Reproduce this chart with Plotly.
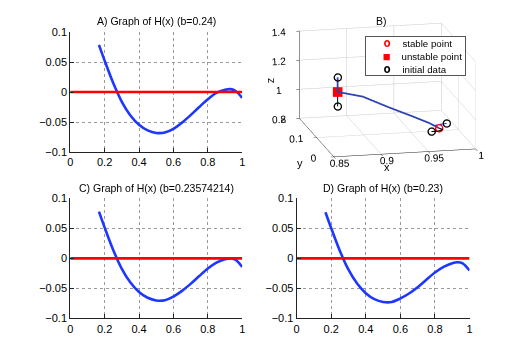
import plotly.graph_objects as go

# ---------------- data ----------------
x_h = [0.167, 0.2, 0.25, 0.3, 0.35, 0.4, 0.45, 0.5, 0.55, 0.6, 0.65, 0.7,
       0.75, 0.8, 0.85, 0.9, 0.93, 0.96, 1.0]
h_a = [0.0787, 0.0525, 0.0150, -0.0162, -0.0390, -0.0545, -0.0640, -0.0682, -0.0675,
       -0.0614, -0.0510, -0.0385, -0.0250, -0.0120, -0.0015, 0.0037, 0.0049, 0.0022, -0.0098]
h_c = [0.0780, 0.0517, 0.0140, -0.0174, -0.0403, -0.0560, -0.0657, -0.0701, -0.0697,
       -0.0637, -0.0542, -0.0425, -0.0295, -0.0169, -0.0070, -0.0013, 0.0001, -0.0022, -0.0143]
h_d = [0.0770, 0.0505, 0.0127, -0.0189, -0.0420, -0.0580, -0.0680, -0.0726, -0.0727,
       -0.0668, -0.0585, -0.0480, -0.0355, -0.0235, -0.0143, -0.0080, -0.0064, -0.0082, -0.0203]
zero_x = [0.0, 1.0]
zero_y = [0.0, 0.0]

titles = ["A) Graph of H(x) (b=0.24)", "B)",
          "C) Graph of H(x) (b=0.23574214)", "D) Graph of H(x) (b=0.23)"]
x_ticks = [0, 0.2, 0.4, 0.6, 0.8, 1]
y_ticks = [-0.1, -0.05, 0, 0.05, 0.1]

# 3D panel
legend_names = ["stable point", "unstable point", "initial data"]
axis3_titles = ["x", "y", "z"]
stable_pt = [0.97, 0.048, 0.89]
unstable_pt = [0.877, 0.126, 1.07]
init_x = [0.877, 0.877, 0.978, 0.962]
init_y = [0.126, 0.126, 0.048, 0.048]
init_z = [1.17, 0.97, 0.92, 0.87]
traj_main_x = [0.877, 0.877, 0.877, 0.900, 0.9235, 0.947, 0.962, 0.970]
traj_main_y = [0.126, 0.126, 0.126, 0.1065, 0.087, 0.0675, 0.056, 0.048]
traj_main_z = [1.17, 1.11, 1.07, 1.055, 1.0, 0.95, 0.915, 0.89]
traj_low_x = [0.877, 0.877]
traj_low_y = [0.126, 0.126]
traj_low_z = [0.97, 1.07]
traj_s1_x = [0.978, 0.974, 0.966, 0.970]
traj_s1_y = [0.048, 0.050, 0.052, 0.048]
traj_s1_z = [0.92, 0.915, 0.905, 0.89]
traj_s2_x = [0.962, 0.968, 0.974, 0.970]
traj_s2_y = [0.048, 0.046, 0.046, 0.048]
traj_s2_z = [0.87, 0.872, 0.882, 0.89]

# ---------------- figure ----------------
W, H = 521, 364
BLUE = "rgb(30,55,255)"
RED = "rgb(255,0,0)"
FONT = "Liberation Sans, Arial, Helvetica, sans-serif"

fig = go.Figure()

panels = [
    ("x", "y", h_a, (68, 242), (27, 151)),
    ("x2", "y2", h_c, (68, 242), (199, 323)),
    ("x3", "y3", h_d, (297, 472), (199, 323)),
]

for xa, ya, vals, (px0, px1), (py0, py1) in panels:
    fig.add_trace(go.Scatter(x=x_h, y=vals, mode="lines", xaxis=xa, yaxis=ya,
                             line=dict(color=BLUE, width=2.6, shape="spline", smoothing=0.9),
                             showlegend=False, hoverinfo="skip"))
    fig.add_trace(go.Scatter(x=zero_x, y=zero_y, mode="lines", xaxis=xa, yaxis=ya,
                             line=dict(color=RED, width=2.6),
                             showlegend=False, hoverinfo="skip"))
    suffix = xa[1:]
    common = dict(showgrid=True, griddash="dot", gridcolor="#9a9a9a", gridwidth=1,
                  showline=True, linecolor="#222", linewidth=1, mirror=False,
                  ticks="inside", ticklen=4, tickcolor="#222", zeroline=False,
                  tickfont=dict(size=11, color="black", family=FONT))
    fig.layout["xaxis" + suffix] = dict(
        domain=[px0 / W, px1 / W], range=[0, 1], tickvals=x_ticks,
        anchor=ya, **common)
    fig.layout["yaxis" + suffix] = dict(
        domain=[1 - py1 / H, 1 - py0 / H], range=[-0.1, 0.1], tickvals=y_ticks,
        anchor=xa, **common)

# 3D panel traces
fig.add_trace(go.Scatter3d(x=traj_main_x, y=traj_main_y, z=traj_main_z, mode="lines",
                           line=dict(color="rgb(45,65,180)", width=3.5),
                           showlegend=False, hoverinfo="skip", scene="scene"))
fig.add_trace(go.Scatter3d(x=traj_low_x, y=traj_low_y, z=traj_low_z, mode="lines",
                           line=dict(color="black", width=2),
                           showlegend=False, hoverinfo="skip", scene="scene"))
fig.add_trace(go.Scatter3d(x=traj_s1_x, y=traj_s1_y, z=traj_s1_z, mode="lines",
                           line=dict(color=BLUE, width=2),
                           showlegend=False, hoverinfo="skip", scene="scene"))
fig.add_trace(go.Scatter3d(x=traj_s2_x, y=traj_s2_y, z=traj_s2_z, mode="lines",
                           line=dict(color="black", width=2),
                           showlegend=False, hoverinfo="skip", scene="scene"))
fig.add_trace(go.Scatter3d(x=[stable_pt[0]], y=[stable_pt[1]], z=[stable_pt[2]],
                           mode="markers", name=legend_names[0], showlegend=False,
                           marker=dict(symbol="circle-open", size=4.5, color=RED,
                                       line=dict(color=RED, width=3)),
                           scene="scene"))
fig.add_trace(go.Scatter3d(x=[unstable_pt[0]], y=[unstable_pt[1]], z=[unstable_pt[2]],
                           mode="markers", name=legend_names[1], showlegend=False,
                           marker=dict(symbol="square", size=5, color=RED),
                           scene="scene"))
fig.add_trace(go.Scatter3d(x=init_x, y=init_y, z=init_z,
                           mode="markers", name=legend_names[2], showlegend=False,
                           marker=dict(symbol="circle-open", size=4.5, color="black",
                                       line=dict(color="black", width=3)),
                           scene="scene"))

ax3 = dict(showbackground=False, showgrid=True, gridcolor="#c8c8c8", gridwidth=1,
           showline=True, linecolor="#222", linewidth=1, zeroline=False,
           showspikes=False, ticks="outside", tickcolor="#222",
           tickfont=dict(size=11, color="black", family=FONT), title_text="")

r = 1.56
fig.update_layout(
    scene=dict(
        domain=dict(x=[0.516, 0.976], y=[0.536, 0.986]),
        xaxis=dict(range=[0.85, 1.0], tickvals=[0.85, 0.9, 0.95, 1.0],
                   ticktext=["0.85", "0.9", "0.95", "1"], ticklen=3,
                   tickangle=0, **ax3),
        yaxis=dict(range=[0, 0.2], tickvals=[0, 0.1, 0.2],
                   ticktext=["0", "0.1", "0.2"], ticklen=8, **ax3),
        zaxis=dict(range=[0.8, 1.4], tickvals=[0.8, 1.0, 1.2, 1.4],
                   ticktext=["0.8", "1", "1.2", "1.4"], ticklen=3, **ax3),
        aspectmode="manual", aspectratio=dict(x=1.84, y=2.0, z=1.14),
        camera=dict(eye=dict(x=-0.211 * r, y=-0.945 * r, z=0.250 * r),
                    up=dict(x=0, y=0, z=1), center=dict(x=0, y=0, z=0),
                    projection=dict(type="orthographic")),
        bgcolor="white",
    ),
    showlegend=False,
    width=W, height=H, margin=dict(l=0, r=0, t=0, b=0),
    paper_bgcolor="white", plot_bgcolor="white",
    font=dict(family=FONT, color="black"),
)

# titles
title_pos = [((68 + 242) / 2, 15), (383, 15),
             ((68 + 242) / 2, 188), ((297 + 472) / 2, 188)]
for t, (cx, cy) in zip(titles, title_pos):
    fig.add_annotation(text=t, x=cx / W, y=1 - cy / H, xref="paper", yref="paper",
                       showarrow=False, xanchor="center", yanchor="middle",
                       font=dict(size=10.5, color="black", family=FONT))

# 3D axis titles (placed as text on top of the 3D canvas)
axis3_pos = [(388, 166, 0), (300, 162, 0), (271, 77, -90)]
for t, (cx, cy, ang) in zip(axis3_titles, axis3_pos):
    fig.add_annotation(text=t, x=cx / W, y=1 - cy / H, xref="paper", yref="paper",
                       showarrow=False, xanchor="center", yanchor="middle",
                       textangle=ang, font=dict(size=11, color="black", family=FONT))

# legend box for panel B (one text box drawn on top of the 3D canvas)
NB = "\u00a0"
sym_text = ["<b>o</b>", "\u25a0", "<b>o</b>"]
sym_col = ["red", "red", "black"]
sym_size = [12, 10.5, 12]
rows = []
for name, st, sc, ss in zip(legend_names, sym_text, sym_col, sym_size):
    rows.append(
        f"<span style='font-family:DejaVu Sans Mono'>{NB * 3}</span>"
        f"<span style='font-family:DejaVu Sans Mono;color:{sc};font-size:{ss}px'>{st}</span>"
        f"<span style='font-family:DejaVu Sans Mono'>{NB * 2}</span>{name}")
fig.add_annotation(text="<br>".join(rows), x=366 / W, y=1 - 31 / H,
                   xref="paper", yref="paper", xanchor="left", yanchor="top",
                   align="left", valign="middle", showarrow=False,
                   width=99, height=38, bgcolor="white", bordercolor="#555",
                   borderwidth=1, borderpad=0,
                   font=dict(size=9.7, color="black", family=FONT))

fig.write_html("out.html", config={"displayModeBar": False},
               post_script="document.body.style.margin='0';")
